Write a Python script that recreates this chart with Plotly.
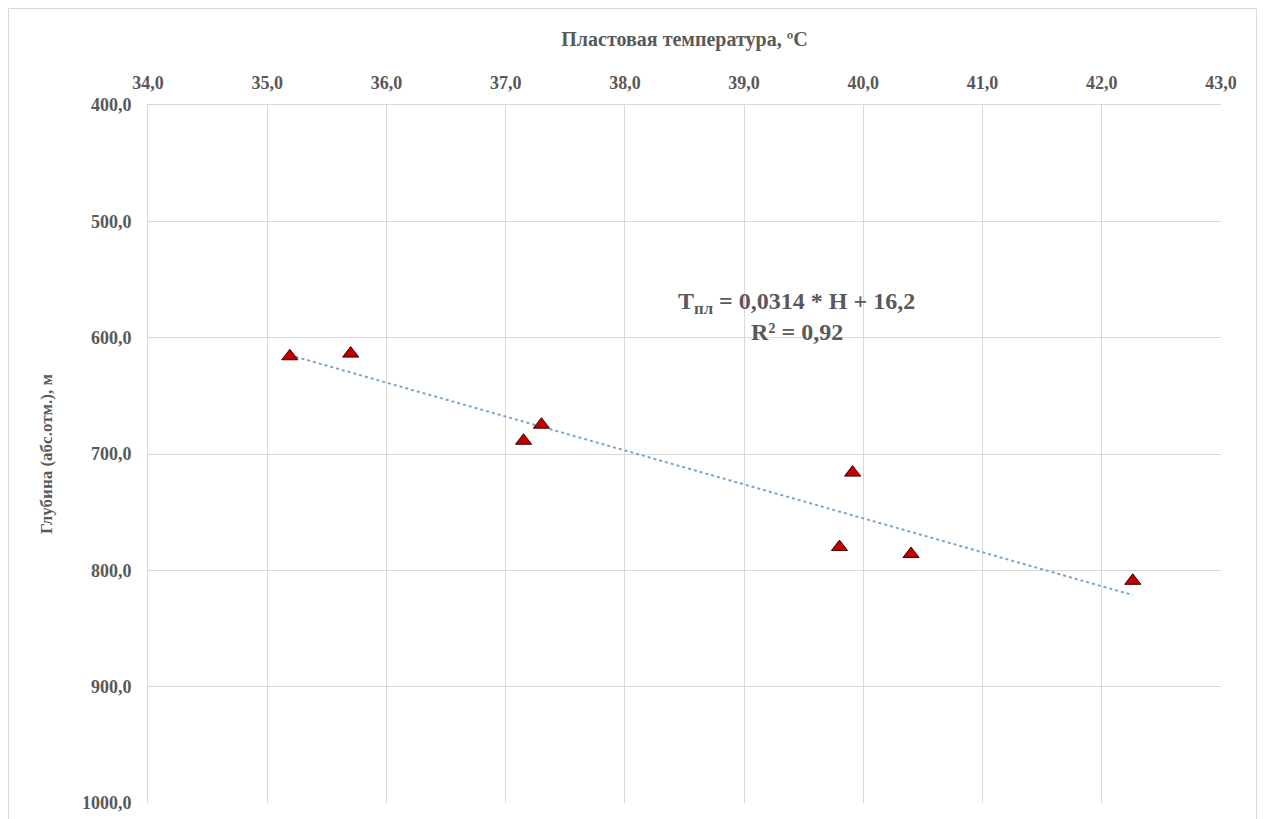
import numpy as np
import plotly.graph_objects as go

# Data
temperature = [35.19, 35.70, 37.15, 37.30, 39.91, 39.80, 40.40, 42.26]   # Пластовая температура, °C
depth = [616.0, 613.7, 688.6, 674.8, 716.0, 780.0, 786.0, 809.0]          # Глубина (абс.отм.), м

x_ticks = [34, 35, 36, 37, 38, 39, 40, 41, 42, 43]
y_ticks = [400, 500, 600, 700, 800, 900, 1000]

equation_text = "T<sub>пл</sub> = 0,0314 * H + 16,2"
r2_text = "R² = 0,92"

# Linear trend (depth vs temperature), as Excel's trendline
coef = np.polyfit(temperature, depth, 1)
trend_x = np.array([min(temperature), max(temperature)])
trend_y = np.polyval(coef, trend_x)

FONT = "Liberation Serif"
TXT = "#595959"
GRID = "#d9d9d9"

W, H = 1249, 811
ML, MR, MT, MB = 140, 36, 97, 16
PW, PH = W - ML - MR, H - MT - MB

fig = go.Figure()
fig.add_trace(go.Scatter(
    x=trend_x, y=trend_y, mode="lines",
    line=dict(color="#7aa6cc", width=2, dash="dot"),
    hoverinfo="skip", showlegend=False,
))
fig.add_trace(go.Scatter(
    x=temperature, y=depth, mode="markers",
    marker=dict(symbol="triangle-up", size=14, color="#C00000",
                line=dict(color="#3d0000", width=1)),
    showlegend=False,
))

fig.update_layout(
    width=W, height=H,
    margin=dict(l=ML, r=MR, t=MT, b=MB, autoexpand=False),
    paper_bgcolor="white", plot_bgcolor="white",
    separators=",.",
    font=dict(family=FONT, color=TXT),
    xaxis=dict(
        side="top", range=[34, 43], tickvals=x_ticks, tickformat=".1f",
        automargin=False,
        showgrid=True, gridcolor=GRID, gridwidth=1,
        showline=True, linecolor=GRID, linewidth=1, mirror=False,
        zeroline=False, ticks="", ticklabelstandoff=8, ticklabeloverflow="allow",
        tickfont=dict(family=FONT, size=18, color=TXT, weight="bold"),
        title=dict(text="<b>Пластовая температура, ºC</b>",
                   font=dict(family=FONT, size=20, color=TXT), standoff=20),
    ),
    yaxis=dict(
        range=[1000, 400], tickvals=y_ticks, tickformat=".1f",
        automargin=False,
        showgrid=True, gridcolor=GRID, gridwidth=1,
        showline=True, linecolor=GRID, linewidth=1,
        zeroline=False, ticks="", ticklabelstandoff=12, ticklabeloverflow="allow",
        tickfont=dict(family=FONT, size=18, color=TXT, weight="bold"),
        title=dict(text="<b>Глубина (абс.отм.), м</b>",
                   font=dict(family=FONT, size=17, color=TXT), standoff=24),
    ),
    annotations=[
        dict(x=39.44, y=570, xref="x", yref="y", text="<b>" + equation_text + "</b>",
             showarrow=False, font=dict(family=FONT, size=24, color=TXT)),
        dict(x=39.44, y=595, xref="x", yref="y", text="<b>" + r2_text + "</b>",
             showarrow=False, font=dict(family=FONT, size=24, color=TXT)),
    ],
    shapes=[
        dict(type="rect", xref="paper", yref="paper",
             x0=(0.5 - ML) / PW, x1=(W - 0.5 - ML) / PW,
             y0=-(40) / PH, y1=(PH + MT - 0.5) / PH,
             line=dict(color="#d9d9d9", width=1), fillcolor="rgba(0,0,0,0)", layer="below"),
    ],
)

fig.write_html("out.html")
